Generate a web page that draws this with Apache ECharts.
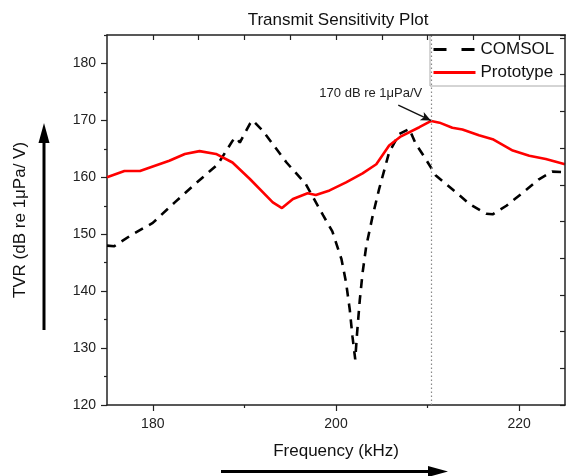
<!DOCTYPE html>
<html>
<head>
<meta charset="utf-8">
<script src="https://cdn.jsdelivr.net/npm/echarts@6/dist/echarts.min.js"></script>
<style>
  html, body { margin: 0; padding: 0; background: #fff; }
  #chart { width: 566px; height: 476px; }
</style>
</head>
<body>
<div id="chart"></div>
<script>
// frequency (kHz), TVR (dB re 1uPa/V)
const comsolFreq = [175.0, 175.8, 177.5, 180.0, 182.4, 184.6, 187.1, 188.7, 189.1, 189.5, 190.6, 190.9, 192.0, 194.6, 196.7, 198.6, 199.6, 200.6, 201.1, 201.5, 201.8, 202.1, 202.3, 202.6, 202.9, 203.3, 204.0, 204.7, 205.8, 206.9, 208.0, 208.7, 209.8, 210.9, 212.7, 214.6, 216.4, 217.1, 218.6, 220.4, 222.2, 223.6, 225.0]
const comsolTvr = [148.0, 147.9, 149.7, 152.0, 155.6, 158.8, 162.3, 166.4, 167.0, 166.1, 169.4, 170.0, 168.2, 162.6, 158.8, 153.3, 150.5, 145.6, 141.5, 136.8, 132.0, 128.0, 132.6, 138.5, 143.2, 147.9, 153.2, 157.9, 164.4, 167.6, 168.5, 165.9, 163.2, 160.3, 157.9, 155.3, 153.6, 153.5, 155.0, 157.3, 159.7, 161.0, 160.9]

const protoFreq = [175.0, 176.9, 178.6, 180.0, 181.8, 183.5, 185.1, 186.9, 188.7, 190.6, 193.1, 194.1, 195.3, 196.9, 197.8, 199.3, 201.1, 202.9, 204.4, 205.8, 207.1, 209.1, 210.4, 211.3, 212.7, 213.8, 215.6, 217.1, 219.3, 221.1, 222.9, 225.0]
const protoTvr = [160.0, 161.1, 161.1, 161.9, 162.9, 164.1, 164.6, 164.1, 162.6, 159.7, 155.6, 154.6, 156.2, 157.2, 156.9, 157.7, 159.1, 160.7, 162.3, 165.6, 167.2, 168.8, 169.9, 169.6, 168.7, 168.4, 167.4, 166.7, 164.7, 163.8, 163.2, 162.3]

const xMajorTicks = [180, 200, 220]
const xMinorTicks = [190, 210]
const xTopTicks = [180, 185, 190, 195, 200, 205, 210, 215, 220]
const yMajorTicks = [120, 130, 140, 150, 160, 170, 180]
const yMinorTicks = [125, 135, 145, 155, 165, 175, 185]

const peakFreq = 210.35
const peakLabel = '170 dB re 1μPa/V'

const FONT = 'Liberation Sans, Arial, sans-serif'

const chart = echarts.init(document.getElementById('chart'), null, { renderer: 'canvas' })

const xBase = { type: 'value', min: 175, max: 225, splitLine: { show: false } }
const yBase = { type: 'value', min: 120, max: 185, splitLine: { show: false } }
const lineColor = '#222'

const option = {
  backgroundColor: '#fff',
  animation: false,
  title: {
    text: 'Transmit Sensitivity Plot',
    left: 333,
    top: 7,
    textAlign: 'center',
    textStyle: { fontSize: 17, fontWeight: 'normal', color: '#111', fontFamily: FONT },
  },
  legend: {
    orient: 'vertical',
    left: 430,
    top: 35,
    backgroundColor: '#fff',
    borderColor: '#aaa',
    borderWidth: 1,
    borderRadius: 0,
    padding: [6, 40, 5, 2],
    itemWidth: 42,
    itemHeight: 14,
    itemGap: 6,
    // hide the marker dot, keep only the line sample
    itemStyle: { opacity: 0, borderWidth: 0 },
    textStyle: { fontSize: 17, color: '#111', fontFamily: FONT },
    data: [
      { name: 'COMSOL', lineStyle: { type: [13, 15], width: 3 } },
      { name: 'Prototype', lineStyle: { width: 3 } },
    ],
  },
  grid: { left: 107, right: 1, top: 35, bottom: 71 },
  xAxis: [
    {
      ...xBase,
      name: 'Frequency (kHz)',
      nameLocation: 'middle',
      nameGap: 38,
      nameTextStyle: { fontSize: 17, color: '#111', fontFamily: FONT },
      axisLine: { lineStyle: { color: lineColor, width: 1.5 } },
      axisTick: { customValues: xMajorTicks, length: 6, lineStyle: { color: lineColor, width: 1.2 } },
      axisLabel: { customValues: xMajorTicks, margin: 12, fontSize: 14, color: '#222', fontFamily: FONT },
    },
    {
      ...xBase,
      position: 'bottom',
      axisLine: { show: false },
      axisTick: { customValues: xMinorTicks, length: 3, lineStyle: { color: lineColor, width: 1.2 } },
      axisLabel: { show: false },
    },
    {
      ...xBase,
      position: 'top',
      z: 10,
      axisLine: { lineStyle: { color: lineColor, width: 1.5 } },
      axisTick: { customValues: xTopTicks, inside: true, length: 5, lineStyle: { color: lineColor, width: 1.2 } },
      axisLabel: { show: false },
    },
  ],
  yAxis: [
    {
      ...yBase,
      name: 'TVR (dB re 1μPa/ V)',
      nameLocation: 'middle',
      nameGap: 78,
      nameTextStyle: { fontSize: 17, color: '#111', fontFamily: FONT },
      axisLine: { lineStyle: { color: lineColor, width: 1.5 } },
      axisTick: { customValues: yMajorTicks, length: 6, lineStyle: { color: lineColor, width: 1.2 } },
      axisLabel: { customValues: yMajorTicks, margin: 11, fontSize: 14, color: '#222', fontFamily: FONT },
    },
    {
      ...yBase,
      position: 'left',
      axisLine: { show: false },
      axisTick: { customValues: yMinorTicks, length: 3, lineStyle: { color: lineColor, width: 1.2 } },
      axisLabel: { show: false },
    },
    {
      // right frame carries its own unlabeled ticks
      type: 'value',
      position: 'right',
      min: 0,
      max: 10.08,
      interval: 1,
      z: 10,
      splitLine: { show: false },
      axisLine: { show: true, lineStyle: { color: lineColor, width: 1.5 } },
      axisTick: { inside: true, length: 5, lineStyle: { color: lineColor, width: 1.2 } },
      axisLabel: { show: false },
    },
  ],
  series: [
    {
      name: 'COMSOL',
      type: 'line',
      xAxisIndex: 0,
      yAxisIndex: 0,
      symbol: 'none',
      data: comsolFreq.map((f, i) => [f, comsolTvr[i]]),
      lineStyle: { color: '#000', width: 2.6, type: [9, 7] },
      itemStyle: { color: '#000' },
      markLine: {
        silent: true,
        symbol: 'none',
        label: { show: false },
        lineStyle: { color: '#888', width: 1.2, type: [1.5, 2.5] },
        data: [[{ coord: [peakFreq, 120] }, { coord: [peakFreq, 185] }]],
      },
    },
    {
      name: 'Prototype',
      type: 'line',
      xAxisIndex: 0,
      yAxisIndex: 0,
      symbol: 'none',
      data: protoFreq.map((f, i) => [f, protoTvr[i]]),
      lineStyle: { color: '#ff0000', width: 2.6 },
      itemStyle: { color: '#ff0000' },
      markLine: {
        silent: true,
        symbol: ['none', 'arrow'],
        symbolSize: [7, 10],
        label: { show: false },
        lineStyle: { color: '#111', width: 1.4, type: 'solid' },
        data: [[{ coord: [206.8, 172.7] }, { coord: [peakFreq, 170.0] }]],
      },
      markPoint: {
        silent: true,
        symbol: 'circle',
        symbolSize: 0,
        label: {
          show: true,
          position: 'inside',
          formatter: peakLabel,
          fontSize: 13,
          color: '#222',
          fontFamily: FONT,
        },
        data: [{ coord: [203.8, 174.7] }],
      },
    },
  ],
  graphic: [
    // arrow under the x axis title
    { type: 'line', shape: { x1: 221, y1: 471.5, x2: 432, y2: 471.5 }, style: { stroke: '#000', lineWidth: 3 } },
    { type: 'polygon', shape: { points: [[428, 466], [448, 471.5], [428, 477]] }, style: { fill: '#000' } },
    // arrow beside the y axis title
    { type: 'line', shape: { x1: 44, y1: 330, x2: 44, y2: 140 }, style: { stroke: '#000', lineWidth: 3 } },
    { type: 'polygon', shape: { points: [[38.5, 143], [44, 123], [49.5, 143]] }, style: { fill: '#000' } },
  ],
}

chart.setOption(option)
</script>
</body>
</html>
